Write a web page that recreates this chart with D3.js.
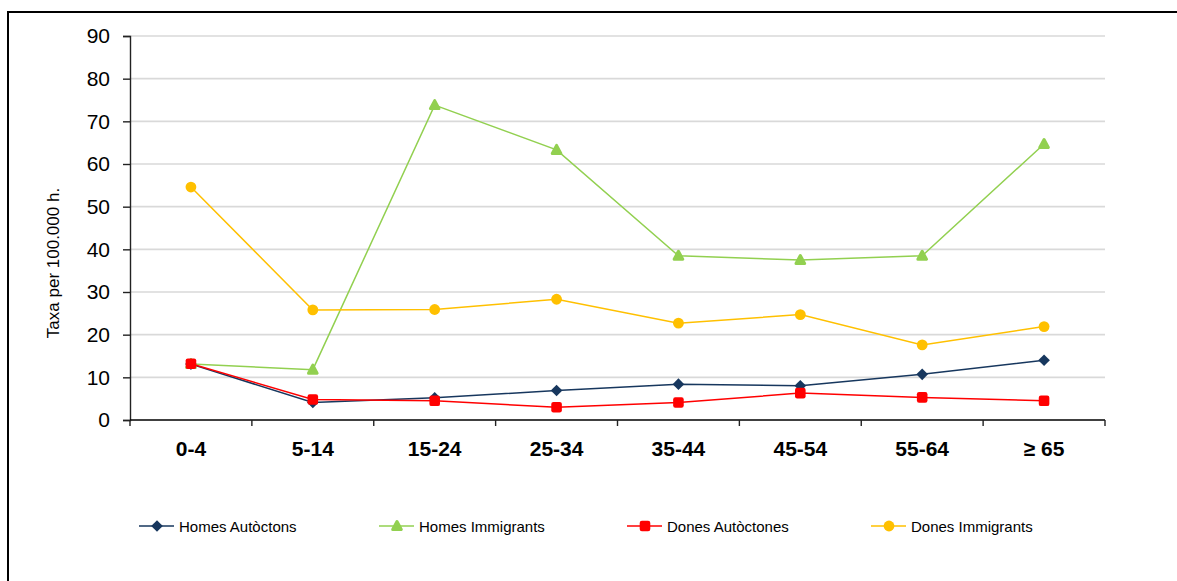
<!DOCTYPE html>
<html>
<head>
<meta charset="utf-8">
<script src="https://cdn.jsdelivr.net/npm/d3@7"></script>
<style>
  html, body { margin: 0; padding: 0; background: #fff; overflow: hidden; }
  svg { display: block; font-family: Arial, "Liberation Sans", sans-serif; }
</style>
</head>
<body>
<svg id="chart" width="1177" height="581"></svg>
<script>
// Age groups and rates per 100,000 inhabitants
const ageGroups = ["0-4", "5-14", "15-24", "25-34", "35-44", "45-54", "55-64", "≥ 65"];
const homesAutoctons   = [13.1, 4.1, 5.2, 6.9, 8.4, 8.0, 10.7, 14.0];
const homesImmigrants  = [13.1, 11.8, 73.8, 63.3, 38.5, 37.5, 38.5, 64.7];
const donesAutoctones  = [13.2, 4.8, 4.5, 3.0, 4.1, 6.3, 5.3, 4.5];
const donesImmigrants  = [54.6, 25.8, 25.9, 28.3, 22.7, 24.7, 17.6, 21.9];
const yTicks = [0, 10, 20, 30, 40, 50, 60, 70, 80, 90];
const yTitle = "Taxa per 100.000 h.";

const series = [
  { name: "Homes Autòctons",  values: homesAutoctons,  color: "#17375e", marker: "diamond" },
  { name: "Homes Immigrants", values: homesImmigrants, color: "#92d050", marker: "triangle" },
  { name: "Dones Autòctones", values: donesAutoctones, color: "#ff0000", marker: "square" },
  { name: "Dones Immigrants", values: donesImmigrants, color: "#ffc000", marker: "circle" }
];

const svg = d3.select("#chart");

// outer chart frame (left and top edges fall inside the page)
svg.append("path")
  .attr("d", "M8,700V12H1300")
  .attr("fill", "none").attr("stroke", "#000").attr("stroke-width", 2);

const plot = { left: 130, right: 1105, top: 36, bottom: 420 };

const x = d3.scaleBand().domain(ageGroups).range([plot.left, plot.right]);
const y = d3.scaleLinear().domain([0, 90]).range([plot.bottom, plot.top]);

// horizontal gridlines
svg.append("g").selectAll("line")
  .data(yTicks.filter(d => d > 0))
  .join("line")
  .attr("x1", plot.left).attr("x2", plot.right)
  .attr("y1", d => y(d)).attr("y2", d => y(d))
  .attr("stroke", "#d9d9d9").attr("stroke-width", 1.6);

// y axis
const yAxis = svg.append("g")
  .attr("transform", `translate(${plot.left},0)`)
  .call(d3.axisLeft(y).tickValues(yTicks).tickSize(7).tickPadding(13).tickFormat(d3.format("d")));
yAxis.select(".domain").attr("stroke", "#222").attr("stroke-width", 1.4);
yAxis.selectAll(".tick line").attr("stroke", "#222").attr("stroke-width", 1.4);
yAxis.selectAll("text")
  .attr("font-size", 21).attr("fill", "#000")
  .attr("font-family", "Arial, 'Liberation Sans', sans-serif");

// x axis: ticks sit on the category boundaries
const xAxisG = svg.append("g").attr("transform", `translate(0,${plot.bottom})`);
xAxisG.append("line")
  .attr("x1", plot.left).attr("x2", plot.right)
  .attr("stroke", "#000").attr("stroke-width", 1.4);
const boundaries = ageGroups.map(d => x(d)).concat([plot.right]);
xAxisG.selectAll("line.tick")
  .data(boundaries)
  .join("line").attr("class", "tick")
  .attr("x1", d => d).attr("x2", d => d)
  .attr("y1", 0).attr("y2", 6)
  .attr("stroke", "#222").attr("stroke-width", 1.4);
xAxisG.selectAll("text")
  .data(ageGroups)
  .join("text")
  .attr("x", d => x(d) + x.bandwidth() / 2)
  .attr("y", 36)
  .attr("text-anchor", "middle")
  .attr("font-size", 21).attr("font-weight", "bold").attr("fill", "#000")
  .text(d => d);

// y axis title
svg.append("text")
  .attr("transform", "translate(59,263) rotate(-90)")
  .attr("text-anchor", "middle")
  .attr("font-size", 17).attr("fill", "#000")
  .text(yTitle);

// marker shapes
function drawMarker(g, type, color) {
  if (type === "diamond") {
    g.append("path").attr("d", "M0,-5.8L5.8,0L0,5.8L-5.8,0Z").attr("fill", color);
  } else if (type === "triangle") {
    g.append("path").attr("d", "M0,-4.5L4.3,3.5L-4.3,3.5Z")
      .attr("fill", color).attr("stroke", color).attr("stroke-width", 3).attr("stroke-linejoin", "round");
  } else if (type === "square") {
    g.append("rect").attr("x", -5.3).attr("y", -5.3).attr("width", 10.6).attr("height", 10.6)
      .attr("rx", 2.2).attr("fill", color);
  } else {
    g.append("circle").attr("r", 5.4).attr("fill", color);
  }
}

const cx = d => x(d) + x.bandwidth() / 2;
const line = d3.line().x((v, i) => cx(ageGroups[i])).y(v => y(v));

series.forEach(s => {
  svg.append("path")
    .datum(s.values)
    .attr("d", line)
    .attr("fill", "none")
    .attr("stroke", s.color)
    .attr("stroke-width", 1.5);
  s.values.forEach((v, i) => {
    const g = svg.append("g").attr("transform", `translate(${cx(ageGroups[i])},${y(v)})`);
    drawMarker(g, s.marker, s.color);
  });
});

// legend
const legendX = [139, 379, 627, 871];
const legendY = 526;
series.forEach((s, i) => {
  const g = svg.append("g").attr("transform", `translate(${legendX[i]},${legendY})`);
  g.append("line").attr("x1", 0).attr("x2", 35)
    .attr("stroke", s.color).attr("stroke-width", 1.5);
  const m = g.append("g").attr("transform", "translate(18,0)");
  drawMarker(m, s.marker, s.color);
  g.append("text")
    .attr("x", 40).attr("y", 5.5)
    .attr("font-size", 15).attr("fill", "#000")
    .text(s.name);
});
</script>
</body>
</html>
